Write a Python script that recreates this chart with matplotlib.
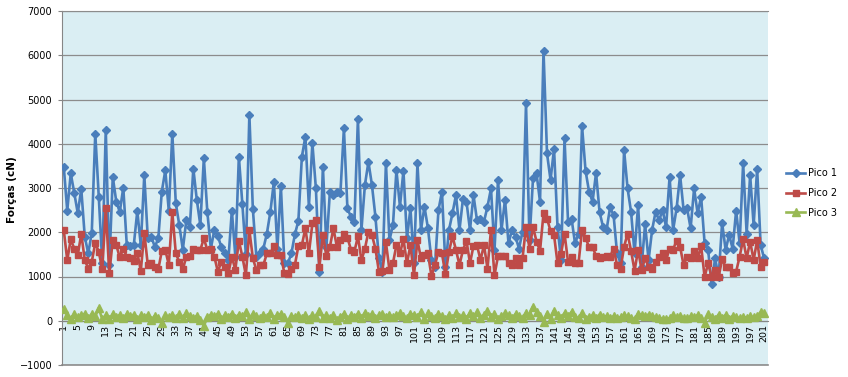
import numpy as np
import matplotlib
matplotlib.use("Agg")
import matplotlib.pyplot as plt

# ---------------- data ----------------
categories = list(range(1, 202))
xtick_labels = [str(v) for v in range(1, 202, 4)]
ytick_values = [-1000, 0, 1000, 2000, 3000, 4000, 5000, 6000, 7000]
series_names = ["Pico 1", "Pico 2", "Pico 3"]

pico1 = [
    3480, 2490, 3330, 2890, 2430, 2980, 1900, 1520, 1990, 4230,
    2800, 1300, 4320, 1250, 3250, 2690, 2460, 3010, 1710, 1690,
    1710, 2480, 1710, 3290, 1860, 1900, 1670, 1860, 2920, 3400,
    2480, 4230, 2650, 2160, 1610, 2270, 2120, 3440, 2730, 2160,
    3670, 2460, 1630, 2050, 1910, 1670, 1520, 1370, 2490, 1450,
    3710, 2640, 1500, 4660, 2520, 1450, 1520, 1630, 1970, 2460,
    3140, 1630, 3040, 1300, 1300, 1520, 1950, 2260, 3710, 4160,
    2580, 4010, 2990, 1110, 3480, 1670, 2920, 2840, 2920, 2880,
    4350, 2540, 2350, 2240, 4560, 2050, 3070, 3590, 3070, 2350,
    1410, 1110, 3570, 1820, 2160, 3400, 2580, 3390, 1860, 2540,
    1300, 3560, 2050, 2580, 2090, 1370, 1220, 2500, 2920, 1220,
    2050, 2430, 2840, 2050, 2760, 2690, 2050, 2840, 2270, 2310,
    2240, 2580, 2990, 1600, 3180, 2050, 2740, 1750, 2050, 1900,
    1630, 2010, 4910, 1820, 3220, 3330, 2690, 6100, 3780, 3180,
    3890, 2120, 1370, 4120, 2240, 2310, 1750, 1970, 4400, 3390,
    2920, 2690, 3340, 2460, 2120, 2050, 2560, 2390, 1520, 1300,
    3860, 2990, 2460, 1520, 2610, 1220, 2180, 1370, 2050, 2460,
    2270, 2500, 2120, 3250, 2050, 2540, 3290, 2500, 2540, 2090,
    2990, 2430, 2800, 1750, 1600, 830, 1410, 990, 2210, 1600,
    1940, 1630, 2490, 1750, 3560, 1970, 3290, 2160, 3440, 1710,
    1410,
]

pico2 = [
    2050, 1370, 1840, 1630, 1480, 1970, 1370, 1180, 1330, 1760,
    1560, 1160, 2540, 1070, 1820, 1710, 1430, 1630, 1450, 1410,
    1350, 1540, 1130, 1990, 1260, 1300, 1220, 1160, 1580, 1600,
    1260, 2450, 1520, 1330, 1160, 1450, 1460, 1630, 1600, 1600,
    1860, 1600, 1630, 1450, 1110, 1330, 1220, 1070, 1450, 1150,
    1810, 1450, 1030, 2050, 1410, 1150, 1260, 1260, 1520, 1520,
    1690, 1480, 1480, 1070, 1050, 1160, 1260, 1690, 1710, 2090,
    1520, 2200, 2270, 1220, 1940, 1460, 1670, 2090, 1670, 1820,
    1970, 1880, 1610, 1560, 1910, 1370, 1630, 2010, 1940, 1630,
    1110, 1130, 1770, 1150, 1300, 1710, 1520, 1840, 1300, 1710,
    1030, 1820, 1410, 1480, 1520, 1010, 1260, 1560, 1520, 1050,
    1560, 1910, 1600, 1260, 1600, 1810, 1300, 1690, 1710, 1370,
    1710, 1180, 2050, 1030, 1460, 1460, 1460, 1300, 1260, 1410,
    1260, 1410, 2120, 1630, 2120, 1790, 1580, 2430, 2310, 2030,
    1940, 1300, 1510, 1970, 1330, 1450, 1300, 1300, 2060, 1880,
    1660, 1670, 1460, 1410, 1450, 1460, 1450, 1630, 1260, 1180,
    1670, 1970, 1580, 1130, 1600, 1150, 1410, 1220, 1180, 1330,
    1450, 1520, 1370, 1630, 1610, 1810, 1670, 1260, 1450, 1410,
    1580, 1410, 1690, 990, 1300, 990, 1150, 990, 1390, 1220,
    1220, 1080, 1110, 1450, 1840, 1410, 1790, 1370, 1820, 1220,
    1330,
]

pico3 = [
    270, 120, 50, 150, 80, 120, 160, 60, 150, 100,
    290, 30, 120, 40, 150, 90, 130, 60, 150, 100,
    140, 40, 120, 80, 140, 20, 110, 60, -60, 120,
    90, 140, 60, 150, 70, 170, 110, 60, 110, 20,
    -120, 80, 140, 100, 160, 40, 130, 90, 160, 60,
    140, 100, 190, 50, 150, 110, 60, 140, 90, 170,
    40, 130, 150, 90, -40, 110, 90, 130, 60, 140,
    30, 120, 90, 230, 60, 130, 70, 120, 20, 80,
    160, 50, 130, 90, 160, 70, 180, 110, 150, 60,
    120, 160, 90, 140, 80, 130, 170, 110, 60, 160,
    130, 80, 200, 30, 170, 110, 70, 160, 100, 40,
    130, 60, 170, 90, 120, 50, 180, 100, 190, 60,
    140, 220, 80, 160, 40, 100, 170, 130, 60, 150,
    110, 70, 180, 140, 320, 200, 100, -30, 160, 40,
    230, 130, 70, 170, 100, 200, 80, 60, 170, 40,
    90, 120, 60, 140, 80, 110, 70, 100, 60, 80,
    120, 100, 70, 30, 160, 130, 110, 140, 100, 80,
    60, 50, 40, 60, 130, 80, 110, 70, 60, 100,
    80, 130, 60, -50, 150, 80, 40, 140, 60, 130,
    40, 110, 80, 60, 90, 70, 100, 80, 110, 190,
    170,
]

colors = ["#4A7EBB", "#BE4B48", "#98B954"]
markers = ["D", "s", "^"]

# ---------------- figure ----------------
W, H = 848, 377
fig = plt.figure(figsize=(W / 100, H / 100), dpi=100)
fig.patch.set_facecolor("white")
ax = fig.add_axes([62 / W, 12 / H, 706 / W, 354 / H])
ax.set_facecolor("#DAEEF3")

grid_col = "#8C8C8C"
ax.set_ylim(-1000, 7000)
ax.set_xlim(0.5, 202.1)
ax.set_yticks(ytick_values)
ax.yaxis.grid(True, color=grid_col, linewidth=0.9, zorder=0)
ax.set_axisbelow(True)

ms = [4.3, 4.8, 5.2]
for vals, c, m, name, s in zip([pico1, pico2, pico3], colors, markers, series_names, ms):
    ax.plot(categories, vals, color=c, marker=m, markersize=s, linewidth=1.9,
            markeredgecolor=c, markerfacecolor=c, label=name, zorder=3)

# spines
ax.spines["right"].set_visible(False)
ax.spines["top"].set_color(grid_col)
ax.spines["left"].set_color("#868686")
ax.spines["bottom"].set_position(("data", 0))
ax.spines["bottom"].set_color("#868686")
ax.axhline(-1000, color=grid_col, linewidth=1.2, zorder=1, clip_on=False)

# x ticks
ax.set_xticks(list(range(1, 202, 4)))
ax.set_xticklabels(xtick_labels, rotation=90, fontsize=6.8)
ax.tick_params(axis="x", length=0, pad=2)
ax.tick_params(axis="y", labelsize=7, length=3, color="#868686", pad=4)
for lab in ax.get_xticklabels():
    lab.set_verticalalignment("top")

ax.set_ylabel("Forças (cN)", fontsize=7.5, fontweight="bold")
ax.yaxis.set_label_coords(-(62 - 17) / 706, 0.494)

fig.legend(loc="center left", bbox_to_anchor=(786 / W, 1 - 193 / H), frameon=False,
           fontsize=7, handlelength=2.0, labelspacing=1.0, handletextpad=0.3,
           borderaxespad=0, borderpad=0)

fig.savefig("out.png", dpi=100)
